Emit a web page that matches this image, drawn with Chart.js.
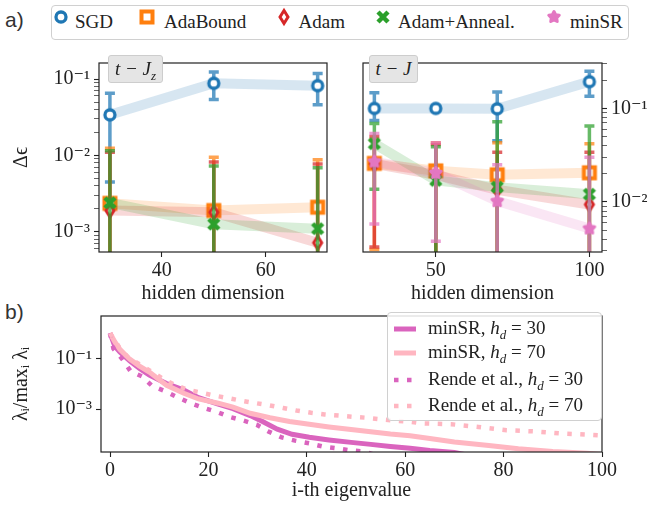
<!DOCTYPE html>
<html>
<head>
<meta charset="utf-8">
<script src="https://cdn.jsdelivr.net/npm/chart.js@4.4.1/dist/chart.umd.min.js"></script>
<style>
  body { margin: 0; background: #fff; }
  #fig { position: relative; width: 649px; height: 505px; overflow: hidden; font-family: "Liberation Serif", "DejaVu Serif", serif; color: #222; }
  #fig canvas { position: absolute; }
  .plabel { position: absolute; font-family: "Liberation Sans", Arial, sans-serif; font-size: 21px; color: #333; }
  .box { position: absolute; border: 1px solid #d0d0d0; border-radius: 4px; background: rgba(255,255,255,0.85); box-sizing: border-box; }
  .item { position: absolute; font-size: 19px; line-height: 20px; white-space: nowrap; }
  .tag { position: absolute; background: #e5e5e5; border: 1px solid #cdcdcd; border-radius: 3px; box-sizing: border-box;
         font-style: italic; font-size: 19px; line-height: 26px; text-align: center; }
</style>
</head>
<body>
<div id="fig">
  <div class="plabel" style="left:5px;top:8px">a)</div>
  <div class="plabel" style="left:5px;top:300px">b)</div>
  <div id="legA" class="box" style="left:51px;top:5px;width:578px;height:35px"></div>
  <canvas id="cJz" style="left:0;top:45px" width="345" height="265"></canvas>
  <canvas id="cJ" style="left:345px;top:45px" width="304" height="265"></canvas>
  <canvas id="cEig" style="left:0;top:300px" width="649" height="205"></canvas>
  <div class="tag" style="left:108px;top:55px;width:55px;height:28px">t − J<sub style="font-size:13px">z</sub></div>
  <div class="tag" style="left:369px;top:55px;width:49px;height:28px">t − J</div>
  <div id="legB" class="box" style="left:387px;top:312px;width:215px;height:109px"></div>
</div>
<script>
// ---------- data: panel a, t-Jz ----------
const optimizers = ['SGD', 'AdaBound', 'Adam', 'Adam+Anneal.', 'minSR'];

const hdJz = [30, 50, 70];
const sgdJz = [0.034, 0.088, 0.082];
const sgdJzLo = [0.0045, 0.054, 0.046];
const sgdJzHi = [0.065, 0.124, 0.118];
const adaboundJz = [0.00236, 0.0019, 0.0021];
const adaboundJzLo = [0.0001, 0.0001, 0.0001];
const adaboundJzHi = [0.0124, 0.0095, 0.0088];
const adamJz = [0.0019, 0.0018, 0.00072];
const adamJzLo = [0.0001, 0.0001, 0.0001];
const adamJzHi = [0.011, 0.0082, 0.0077];
const annealJz = [0.0024, 0.00126, 0.0011];
const annealJzLo = [0.0001, 0.0001, 0.0001];
const annealJzHi = [0.0115, 0.0073, 0.0069];

// ---------- data: panel a, t-J ----------
const hdJ = [30, 50, 70, 100];
const sgdJ = [0.1, 0.1, 0.099, 0.193];
const sgdJLo = [0.074, 0.097, 0.045, 0.135];
const sgdJHi = [0.147, 0.103, 0.15, 0.25];
const adaboundJ = [0.0258, 0.0215, 0.0195, 0.0205];
const adaboundJLo = [0.0031, 0.001, 0.001, 0.001];
const adaboundJHi = [0.046, 0.043, 0.043, 0.042];
const adamJ = [0.0255, 0.0195, 0.0135, 0.0094];
const adamJLo = [0.0033, 0.001, 0.001, 0.001];
const adamJHi = [0.05, 0.041, 0.034, 0.034];
const annealJ = [0.042, 0.017, 0.0144, 0.0121];
const annealJLo = [0.0137, 0.001, 0.001, 0.001];
const annealJHi = [0.069, 0.039, 0.072, 0.065];
const minsrJ = [0.027, 0.0204, 0.0102, 0.0052];
const minsrJLo = [0.0058, 0.0038, 0.001, 0.001];
const minsrJHi = [0.054, 0.043, 0.025, 0.03];

// ---------- data: panel b, spectra ----------
const minsr30X = [0, 1, 2, 4, 6, 8, 10, 11.5, 15, 18, 22, 25, 28.5, 31, 34, 37, 40.5, 44.5, 49, 53, 57, 61, 65, 70, 72];
const minsr30Y = [1.0, 0.3, 0.18, 0.08, 0.04, 0.022, 0.014, 0.0102, 0.0056, 0.0028, 0.00155, 0.00103, 0.00055, 0.00032,
                  0.00016, 0.0001, 0.000076, 0.00006, 0.000048, 0.00004, 0.000033, 0.000028, 0.000023, 0.000019, 0.000016];
const minsr70X = [0, 1, 2, 4, 6, 8, 11.5, 15, 18, 22, 25, 28.5, 32.5, 36.5, 40.5, 44.5, 49, 53, 57, 61, 65, 70, 77, 83, 90, 97, 100];
const minsr70Y = [1.0, 0.45, 0.23, 0.094, 0.05, 0.029, 0.0087, 0.0042, 0.0025, 0.0017, 0.0012, 0.00068, 0.00045, 0.00032,
                  0.00025, 0.000196, 0.000155, 0.000126, 0.000102, 0.000087, 0.000068, 0.00005, 0.000036, 0.000027,
                  0.000021, 0.000018, 0.000016];
const rende30X = [0, 0.7, 2.6, 4.2, 6.5, 8.6, 11.3, 13.9, 16.4, 19.1, 21.8, 24.4, 27.1, 29.8, 32.2, 34.9, 37.6, 40.5,
                  43.2, 46.1, 48.8, 51.6, 54];
const rende30Y = [1.0, 0.244, 0.089, 0.031, 0.0195, 0.0081, 0.005, 0.0028, 0.0017, 0.0011, 0.00076, 0.00048, 0.00035,
                  0.00024, 0.00013, 0.000075, 0.000056, 0.000044, 0.000033, 0.000028, 0.000023, 0.000021, 0.000015];
const rende70X = [0, 1.9, 3.7, 8.1, 10.5, 13, 15.7, 18.4, 21.2, 24, 26.9, 29.7, 32.4, 35.2, 37.9, 40.9, 43.6, 46.6,
                  49.5, 52.2, 55.2, 57.7, 60.6, 63.6, 69.4, 74.9, 80.6, 86.4, 92.1, 97.9, 100];
const rende70Y = [1.0, 0.27, 0.11, 0.033, 0.017, 0.0093, 0.0059, 0.0045, 0.0034, 0.0027, 0.0021, 0.0017, 0.0014, 0.0011,
                  0.00087, 0.00071, 0.00061, 0.00055, 0.00049, 0.00045, 0.00039, 0.00035, 0.00032, 0.00027, 0.00025,
                  0.000195, 0.000145, 0.00013, 0.000107, 0.000095, 0.00009];
const spectraLabels = ['minSR, h_d = 30', 'minSR, h_d = 70', 'Rende et al., h_d = 30', 'Rende et al., h_d = 70'];

// ---------- styles ----------
const COL = {
  blue: '31,119,180', orange: '255,127,14', red: '214,39,40', green: '44,160,44', pink: '227,119,194',
  dpink: '218,100,190', lpink: '255,182,193'
};
Chart.defaults.font.family = '"Liberation Serif", "DejaVu Serif", serif';
Chart.defaults.color = '#222';

function marker(kind, rgb) {
  const c = document.createElement('canvas');
  c.width = 22; c.height = 22;
  const g = c.getContext('2d');
  g.translate(11, 11);
  g.strokeStyle = 'rgb(' + rgb + ')';
  g.fillStyle = '#fff';
  if (kind === 'circle') {
    g.lineWidth = 3.3; g.beginPath(); g.arc(0, 0, 5, 0, 2 * Math.PI); g.fill(); g.stroke();
  } else if (kind === 'square') {
    g.lineWidth = 4; g.fillRect(-5.5, -5.5, 11, 11); g.strokeRect(-5.5, -5.5, 11, 11);
  } else if (kind === 'diamond') {
    g.lineWidth = 3; g.beginPath();
    g.moveTo(0, -6.5); g.lineTo(4, 0); g.lineTo(0, 6.5); g.lineTo(-4, 0); g.closePath();
    g.fill(); g.stroke();
  } else if (kind === 'x') {
    g.lineWidth = 4.5; g.beginPath();
    g.moveTo(-5, -5); g.lineTo(5, 5); g.moveTo(5, -5); g.lineTo(-5, 5); g.stroke();
  } else {
    g.fillStyle = 'rgb(' + rgb + ')'; g.lineWidth = 3; g.lineJoin = 'round'; g.beginPath();
    for (let k = 0; k < 10; k++) {
      const r = k % 2 ? 2.8 : 5.5, a = -Math.PI / 2 + k * Math.PI / 5;
      k ? g.lineTo(r * Math.cos(a), r * Math.sin(a)) : g.moveTo(r * Math.cos(a), r * Math.sin(a));
    }
    g.closePath(); g.fill(); g.stroke();
  }
  return c;
}

const optStyle = [
  ['circle', COL.blue], ['square', COL.orange], ['diamond', COL.red], ['x', COL.green], ['star', COL.pink]
];

function series(i, xs, ys, lo, hi) {
  const [kind, rgb] = optStyle[i];
  return {
    label: optimizers[i],
    data: xs.map((x, k) => ({ x: x, y: ys[k] })),
    borderColor: 'rgba(' + rgb + ',0.18)',
    borderWidth: 10,
    tension: 0,
    pointStyle: marker(kind, rgb),
    pointRadius: 8,
    errLo: lo, errHi: hi, errColor: 'rgba(' + rgb + ',0.72)',
    order: 10 - i
  };
}

// ---------- plugins ----------
const frame = {
  id: 'frame',
  afterDatasetsDraw(chart) {
    const { ctx, chartArea: a } = chart;
    ctx.save();
    ctx.strokeStyle = '#222';
    ctx.lineWidth = 1.2;
    ctx.strokeRect(a.left, a.top, a.right - a.left, a.bottom - a.top);
    ctx.restore();
  }
};

const errorBars = {
  id: 'errorBars',
  beforeDatasetDraw(chart, args) {
    const ds = chart.data.datasets[args.index];
    if (!ds.errLo) return;
    const { ctx, chartArea: a } = chart;
    const ys = chart.scales.y;
    ctx.save();
    ctx.beginPath();
    ctx.rect(a.left, a.top, a.right - a.left, a.bottom - a.top);
    ctx.clip();
    ctx.strokeStyle = ds.errColor;
    ctx.lineWidth = 3.5;
    args.meta.data.forEach((pt, i) => {
      const lo = ys.getPixelForValue(ds.errLo[i]);
      const hi = ys.getPixelForValue(ds.errHi[i]);
      ctx.beginPath();
      ctx.moveTo(pt.x, lo); ctx.lineTo(pt.x, hi);
      ctx.moveTo(pt.x - 5, lo); ctx.lineTo(pt.x + 5, lo);
      ctx.moveTo(pt.x - 5, hi); ctx.lineTo(pt.x + 5, hi);
      ctx.stroke();
    });
    ctx.restore();
  }
};

// ---------- axis helpers ----------
const SUP = { '-': '⁻', '0': '⁰', '1': '¹', '2': '²', '3': '³', '4': '⁴', '5': '⁵' };
function decadeLabel(v) {
  const e = Math.log10(v);
  if (Math.abs(e - Math.round(e)) > 1e-6) return '';
  return '10' + String(Math.round(e)).split('').map(ch => SUP[ch]).join('');
}
function logTicks(min, max, withMinor) {
  const out = [];
  for (let e = -6; e <= 1; e++) {
    for (let k = 1; k <= 9; k++) {
      if (!withMinor && k > 1) continue;
      const v = k * Math.pow(10, e);
      if (v >= min && v <= max) out.push({ value: v });
    }
  }
  return out;
}
const tickFont = { size: 20 };
const titleFont = { size: 20 };
const titlePad = { top: 0, bottom: 4 };
const grid = {
  drawOnChartArea: false, drawTicks: true, tickLength: 5, tickColor: '#222',
  tickWidth: c => (decadeLabel(c.tick.value) ? 1.1 : 0.7)
};
const xgrid = { drawOnChartArea: false, drawTicks: true, tickLength: 5, tickColor: '#222', tickWidth: 1.1 };

function baseOptions(pad) {
  return {
    responsive: false,
    animation: false,
    layout: { padding: pad },
    plugins: { legend: { display: false }, tooltip: { enabled: false } },
    elements: { line: { tension: 0 } }
  };
}

// ---------- chart: t-Jz ----------
const jzMin = Math.pow(10, -3.264), jzMax = Math.pow(10, -0.79);
const optJz = baseOptions({ left: 10, top: 7, right: 3, bottom: 0 });
optJz.scales = {
  x: {
    type: 'linear', min: 27.9, max: 71.8,
    afterBuildTicks: s => { s.ticks = [40, 60].map(v => ({ value: v })); },
    afterFit: s => { s.height = 58; },
    ticks: { font: tickFont, padding: 2 },
    grid: xgrid, border: { display: false },
    title: { display: true, text: 'hidden dimension', font: titleFont, padding: titlePad }
  },
  y: {
    type: 'logarithmic', min: jzMin, max: jzMax,
    afterBuildTicks: s => { s.ticks = logTicks(jzMin, jzMax, true); },
    afterFit: s => { s.width = 89; },
    ticks: { font: tickFont, autoSkip: false, padding: 4, callback: v => decadeLabel(v) },
    grid: grid, border: { display: false },
    title: { display: true, text: 'Δϵ', font: titleFont, padding: 0 }
  }
};
new Chart(document.getElementById('cJz'), {
  type: 'line',
  data: {
    datasets: [
      series(0, hdJz, sgdJz, sgdJzLo, sgdJzHi),
      series(1, hdJz, adaboundJz, adaboundJzLo, adaboundJzHi),
      series(2, hdJz, adamJz, adamJzLo, adamJzHi),
      series(3, hdJz, annealJz, annealJzLo, annealJzHi)
    ]
  },
  options: optJz,
  plugins: [errorBars, frame]
});

// ---------- chart: t-J ----------
const jMin = Math.pow(10, -2.535), jMax = Math.pow(10, -0.515);
const optJ = baseOptions({ left: 11, top: 7, right: 0, bottom: 0 });
optJ.scales = {
  x: {
    type: 'linear', min: 26.3, max: 104.1,
    afterBuildTicks: s => { s.ticks = [50, 100].map(v => ({ value: v })); },
    afterFit: s => { s.height = 58; },
    ticks: { font: tickFont, padding: 2 },
    grid: xgrid, border: { display: false },
    title: { display: true, text: 'hidden dimension', font: titleFont, padding: titlePad }
  },
  y: {
    type: 'logarithmic', position: 'right', min: jMin, max: jMax,
    afterBuildTicks: s => { s.ticks = logTicks(jMin, jMax, true); },
    afterFit: s => { s.width = 47; },
    ticks: { font: tickFont, autoSkip: false, padding: 4, callback: v => decadeLabel(v) },
    grid: grid, border: { display: false }
  }
};
new Chart(document.getElementById('cJ'), {
  type: 'line',
  data: {
    datasets: [
      series(0, hdJ, sgdJ, sgdJLo, sgdJHi),
      series(1, hdJ, adaboundJ, adaboundJLo, adaboundJHi),
      series(2, hdJ, adamJ, adamJLo, adamJHi),
      series(3, hdJ, annealJ, annealJLo, annealJHi),
      series(4, hdJ, minsrJ, minsrJLo, minsrJHi)
    ]
  },
  options: optJ,
  plugins: [errorBars, frame]
});

// ---------- chart: eigenvalue spectra ----------
const eMin = Math.pow(10, -4.7), eMax = Math.pow(10, 0.68);
const spectra = [
  [minsr30X, minsr30Y, COL.dpink, false],
  [minsr70X, minsr70Y, COL.lpink, false],
  [rende30X, rende30Y, COL.dpink, true],
  [rende70X, rende70Y, COL.lpink, true]
];
const optE = baseOptions({ left: 10, top: 13, right: 47, bottom: 0 });
optE.scales = {
  x: {
    type: 'linear', min: -1.83, max: 100,
    afterBuildTicks: s => { s.ticks = [0, 20, 40, 60, 80, 100].map(v => ({ value: v })); },
    afterFit: s => { s.height = 53; },
    ticks: { font: tickFont, padding: 2 },
    grid: xgrid, border: { display: false },
    title: { display: true, text: 'i-th eigenvalue', font: titleFont, padding: { top: 0, bottom: 2 } }
  },
  y: {
    type: 'logarithmic', min: eMin, max: eMax,
    afterBuildTicks: s => { s.ticks = [0.001, 0.1].map(v => ({ value: v })); },
    afterFit: s => { s.width = 91; },
    ticks: { font: tickFont, autoSkip: false, padding: 4, callback: v => decadeLabel(v) },
    grid: xgrid, border: { display: false },
    title: { display: true, text: 'λᵢ/maxᵢ λᵢ', font: titleFont, padding: 0 }
  }
};
new Chart(document.getElementById('cEig'), {
  type: 'line',
  data: {
    datasets: spectra.map(([xs, ys, rgb, dotted], i) => ({
      label: spectraLabels[i],
      data: xs.map((x, k) => ({ x: x, y: ys[k] })),
      borderColor: 'rgb(' + rgb + ')',
      borderWidth: dotted ? 4.5 : 5,
      borderDash: dotted ? [4.5, 8.5] : [],
      borderCapStyle: 'butt',
      pointRadius: 0,
      order: 10 - i
    }))
  },
  options: optE,
  plugins: [frame]
});

// ---------- legends ----------
const legA = document.getElementById('legA');
const mX = [59.5, 145.6, 283, 382, 553], tX = [74, 163, 297.5, 397, 569];
optimizers.forEach((name, i) => {
  const m = marker(optStyle[i][0], optStyle[i][1]);
  m.style.left = (mX[i] - 51 - 11) + 'px';
  m.style.top = (17 - 6 - 11) + 'px';
  legA.appendChild(m);
  const t = document.createElement('div');
  t.className = 'item';
  t.style.left = (tX[i] - 51) + 'px';
  t.style.top = '6px';
  t.textContent = name;
  legA.appendChild(t);
});

const legB = document.getElementById('legB');
const rowY = [328, 352, 379, 405];
spectra.forEach(([xs, ys, rgb, dotted], i) => {
  const c = document.createElement('canvas');
  c.width = 24; c.height = 10;
  c.style.left = (393 - 387) + 'px';
  c.style.top = (rowY[i] - 312 - 5) + 'px';
  const g = c.getContext('2d');
  g.strokeStyle = 'rgb(' + rgb + ')';
  g.lineWidth = dotted ? 4.5 : 5;
  g.setLineDash(dotted ? [4.5, 8.5] : []);
  g.beginPath(); g.moveTo(0, 5); g.lineTo(22, 5); g.stroke();
  legB.appendChild(c);
  const t = document.createElement('div');
  t.className = 'item';
  t.style.left = (427 - 387) + 'px';
  t.style.top = (rowY[i] - 312 - 11) + 'px';
  const parts = spectraLabels[i].split('h_d');
  t.innerHTML = parts[0] + '<i>h<sub style="font-size:13px">d</sub></i>' + parts[1];
  legB.appendChild(t);
});
</script>
</body>
</html>
